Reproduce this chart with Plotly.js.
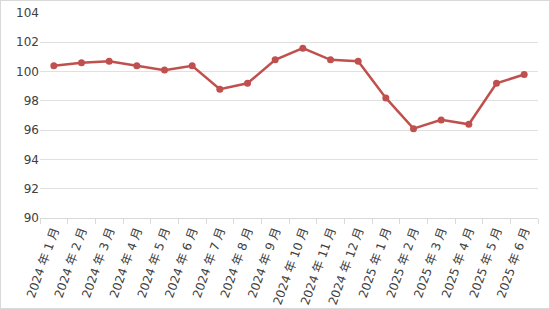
<!DOCTYPE html>
<html><head><meta charset="utf-8">
<script src="https://cdn.plot.ly/plotly-3.0.1.min.js"></script>
<style>
html,body{margin:0;padding:0;background:#fff;}
#wrap{width:550px;height:309px;box-sizing:border-box;border:1px solid #d9d9d9;position:relative;overflow:hidden;}
#chart{position:absolute;left:-1px;top:-1px;width:550px;height:309px;}
</style></head>
<body><div id="wrap"><div id="chart"></div></div>
<script>
var categories = ["2024 年 1 月","2024 年 2 月","2024 年 3 月","2024 年 4 月","2024 年 5 月","2024 年 6 月","2024 年 7 月","2024 年 8 月","2024 年 9 月","2024 年 10 月","2024 年 11 月","2024 年 12 月","2025 年 1 月","2025 年 2 月","2025 年 3 月","2025 年 4 月","2025 年 5 月","2025 年 6 月"];
var values = [100.4,100.6,100.7,100.4,100.1,100.4,98.8,99.2,100.8,101.6,100.8,100.7,98.2,96.1,96.7,96.4,99.2,99.8];
var yTicks = [90,92,94,96,98,100,102,104];

var font = "DejaVu Sans, Noto Sans CJK SC, sans-serif";
Plotly.newPlot("chart", [{
  x: categories, y: values, type: "scatter", mode: "lines+markers",
  line: {color: "#C0504D", width: 2.5},
  marker: {color: "#C0504D", size: 7}
}], {
  width: 550, height: 309,
  margin: {l: 40, r: 12, t: 13, b: 91, autoexpand: false},
  paper_bgcolor: "#fff", plot_bgcolor: "#fff",
  showlegend: false,
  font: {family: font, size: 11, color: "#404040"},
  xaxis: {
    type: "category", tickangle: -70, tickson: "boundaries", automargin: false,
    range: [-0.5, categories.length - 0.5],
    ticks: "outside", ticklen: 5, tickcolor: "#d9d9d9",
    showline: true, linecolor: "#d9d9d9", showgrid: false,
    tickfont: {family: font, size: 12, color: "#404040"}
  },
  yaxis: {
    range: [90, 104], tickvals: yTicks, ticks: "", automargin: false,
    showgrid: true, gridcolor: "#e0e0e0", gridwidth: 1, zeroline: false,
    showline: false,
    tickfont: {family: font, size: 12, color: "#404040"}
  }
}, {staticPlot: true});
</script></body></html>
